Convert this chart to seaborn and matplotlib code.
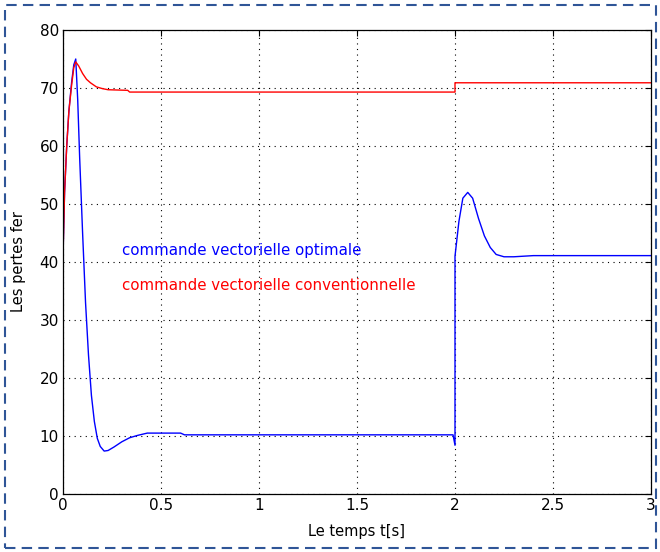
import matplotlib
matplotlib.use("Agg")
import matplotlib.pyplot as plt
from matplotlib.patches import Rectangle
import pandas as pd
import seaborn as sns

# Iron losses, optimal vector control
t_opt = [0.0, 0.008, 0.019, 0.03, 0.044, 0.055, 0.065, 0.075, 0.085, 0.10, 0.115,
         0.13, 0.145, 0.16, 0.175, 0.19, 0.21, 0.23, 0.26, 0.30, 0.34, 0.38, 0.43,
         0.60, 0.62, 1.0, 1.5, 1.99, 2.0, 2.0, 2.02, 2.04, 2.065, 2.09, 2.12, 2.15,
         2.18, 2.21, 2.25, 2.30, 2.40, 3.0]
p_opt = [41.0, 52.0, 60.0, 66.0, 71.0, 74.0, 75.0, 68.0, 58.0, 45.0, 33.0,
         24.0, 17.0, 12.5, 9.6, 8.2, 7.4, 7.5, 8.1, 9.0, 9.7, 10.1, 10.5,
         10.5, 10.2, 10.2, 10.2, 10.2, 8.4, 41.0, 47.0, 51.0, 52.0, 51.0, 47.5, 44.5,
         42.5, 41.3, 40.9, 40.9, 41.1, 41.1]

# Iron losses, conventional vector control
t_conv = [0.0, 0.008, 0.019, 0.03, 0.044, 0.055, 0.065, 0.08, 0.10, 0.12, 0.14,
          0.17, 0.20, 0.23, 0.33, 0.34, 1.0, 1.99, 2.0, 2.0, 3.0]
p_conv = [41.0, 52.0, 60.0, 66.0, 70.5, 73.5, 74.5, 73.8, 72.5, 71.5, 70.9,
          70.2, 69.9, 69.7, 69.6, 69.3, 69.3, 69.3, 69.3, 70.9, 70.9]

label_opt = "commande vectorielle optimale"
label_conv = "commande vectorielle conventionnelle"

x_ticks = [0, 0.5, 1, 1.5, 2, 2.5, 3]
x_ticklabels = ["0", "0.5", "1", "1.5", "2", "2.5", "3"]
y_ticks = [0, 10, 20, 30, 40, 50, 60, 70, 80]

df_opt = pd.DataFrame({"t": t_opt, "p": p_opt})
df_conv = pd.DataFrame({"t": t_conv, "p": p_conv})

sns.set_style("white")
plt.rcParams["font.family"] = ["DejaVu Sans"]
plt.rcParams["text.color"] = "black"
plt.rcParams["axes.labelcolor"] = "black"

fig = plt.figure(figsize=(6.6, 5.52), dpi=100)
ax = fig.add_axes([63 / 660, 1 - 494 / 552, (651 - 63) / 660, (494 - 30) / 552])

# each series drawn as one path in time order (vertical steps at t = 2 s)
sns.lineplot(data=df_opt, x="t", y="p", color="#0000FF", estimator=None,
             sort=False, linewidth=1.0, ax=ax)
sns.lineplot(data=df_conv, x="t", y="p", color="#FF0000", estimator=None,
             sort=False, linewidth=1.0, ax=ax)

ax.set_xlim(0, 3)
ax.set_ylim(0, 80)
ax.set_xticks(x_ticks)
ax.set_xticklabels(x_ticklabels)
ax.set_yticks(y_ticks)
ax.grid(True, color="black", linestyle=(0, (1, 4)), linewidth=0.8)
ax.set_axisbelow(True)
ax.tick_params(direction="in", top=True, right=True, length=4, width=0.8,
               labelsize=11, colors="black", pad=3)
for s in ax.spines.values():
    s.set_color("black")
    s.set_linewidth(0.9)

ax.set_xlabel("Le temps t[s]", fontsize=10.5, labelpad=8, color="black")
ax.set_ylabel("Les pertes fer", fontsize=10.5, labelpad=10, color="black")

ax.text(0.30, 42.0, label_opt, color="#0000FF", fontsize=10.8, va="center", ha="left")
ax.text(0.30, 36.0, label_conv, color="#FF0000", fontsize=10.8, va="center", ha="left")

# dashed frame around the figure
fig.patches.append(Rectangle((5 / 660, 4 / 552), 651 / 660, 543 / 552,
                             transform=fig.transFigure, fill=False,
                             edgecolor="#2F5597", linewidth=1.5,
                             linestyle=(0, (5, 3))))

fig.savefig("out.png", dpi=100, facecolor="white")
